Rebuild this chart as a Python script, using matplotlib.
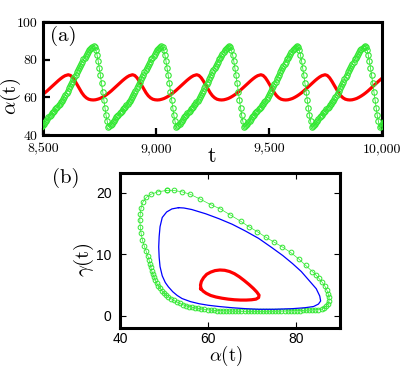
import numpy as np
import matplotlib
matplotlib.use("Agg")
import matplotlib.pyplot as plt
from matplotlib.ticker import StrMethodFormatter

plt.rcParams['mathtext.fontset'] = 'cm'

# ---- panel (a): alpha(t) time series ----
# one green cycle read from the plot, sampled every 5 time units from a trough
green_step = 5
green_cycle = [44.4, 44.7, 45.2, 45.9, 46.7, 47.6, 48.5, 49.3, 50.1, 50.8,
               51.5, 52.2, 52.9, 53.6, 54.3, 55.0, 55.8, 56.6, 57.4, 58.3,
               59.3, 60.3, 61.4, 62.5, 63.6, 64.8, 66.0, 67.2, 68.4, 69.6,
               70.8, 72.0, 73.2, 74.4, 75.6, 76.8, 77.9, 79.0, 80.1, 81.1,
               82.1, 83.1, 84.0, 84.9, 85.7, 86.4, 86.9, 87.2, 86.6, 85.0,
               82.6, 79.4, 75.7, 71.7, 67.4, 63.0, 58.5, 54.2, 50.4, 47.3]
green_troughs = [8489, 8789, 9089, 9389, 9689, 9989]

# one red cycle, sampled every 10 time units from a peak
red_step = 10
red_cycle = [72.0, 71.6, 70.4, 68.6, 66.5, 64.3, 62.4, 60.8, 59.7, 59.0,
             58.7, 58.6, 58.7, 59.0, 59.4, 60.0, 60.7, 61.5, 62.4, 63.4,
             64.5, 65.6, 66.7, 67.8, 68.9, 69.9, 70.8, 71.5, 71.9]
red_peaks = [8328, 8612, 8896, 9180, 9464, 9748, 10032]

# ---- panel (b): gamma(t) vs alpha(t) ----
green_loop_alpha = [50.6, 48.7, 47.1, 46.0, 45.2, 44.8, 44.6, 44.5, 44.6, 44.8,
                    45.1, 45.5, 45.9, 46.3, 46.6, 46.8, 47.0, 47.2, 47.4, 47.7,
                    48.0, 48.3, 48.7, 49.1, 49.5, 50.0, 50.5, 51.0, 51.6, 52.2,
                    52.9, 53.6, 54.3, 55.0, 55.7, 56.4, 57.1, 57.8, 58.5, 59.2,
                    59.9, 60.6, 61.3, 62.0, 62.7, 63.4, 64.1, 64.8, 65.5, 66.2,
                    66.9, 67.6, 68.3, 69.0, 69.7, 70.4, 71.1, 71.8, 72.5, 73.2,
                    73.9, 74.6, 75.3, 76.0, 76.7, 77.4, 78.1, 78.8, 79.5, 80.2,
                    80.9, 81.6, 82.3, 83.0, 83.7, 84.4, 85.1, 85.8, 86.4, 86.9,
                    87.3, 87.5, 87.5, 87.3, 87.0, 86.5, 85.9, 85.2, 84.5, 83.7,
                    82.2, 80.7, 78.8, 76.9, 75.0, 73.1, 71.2, 69.3, 67.4, 65.1,
                    62.8, 60.6, 58.2, 55.9, 54.0, 52.2, 50.6]
green_loop_gamma = [20.4, 20.2, 19.8, 19.3, 18.5, 17.6, 16.6, 15.6, 14.5, 13.4,
                    12.3, 11.4, 10.6, 9.8, 9.1, 8.5, 7.9, 7.3, 6.8, 6.3,
                    5.8, 5.3, 4.9, 4.5, 4.1, 3.7, 3.4, 3.1, 2.8, 2.5,
                    2.25, 2.0, 1.8, 1.65, 1.5, 1.38, 1.27, 1.18, 1.1, 1.03,
                    0.97, 0.92, 0.88, 0.85, 0.82, 0.8, 0.78, 0.76, 0.75, 0.74,
                    0.73, 0.72, 0.72, 0.71, 0.71, 0.71, 0.71, 0.71, 0.72, 0.72,
                    0.73, 0.73, 0.74, 0.75, 0.76, 0.77, 0.78, 0.8, 0.81, 0.83,
                    0.85, 0.87, 0.9, 0.92, 0.95, 0.98, 1.0, 1.05, 1.25, 1.55,
                    1.95, 2.45, 3.0, 3.6, 4.2, 4.9, 5.5, 6.1, 6.65, 7.2,
                    8.2, 9.2, 10.3, 11.2, 12.0, 12.8, 13.7, 14.5, 15.4, 16.4,
                    17.4, 18.1, 19.0, 19.8, 20.2, 20.4, 20.4]

blue_loop_alpha = [53.3, 51.8, 50.6, 49.6, 49.1, 48.9, 48.8, 48.9, 49.1, 49.6,
                   50.3, 51.0, 52.0, 53.0, 54.1, 56.0, 58.0, 60.1, 62.5, 65.5,
                   68.5, 71.5, 75.0, 79.2, 82.0, 84.0, 85.1, 85.6, 85.4, 84.6,
                   82.9, 81.2, 79.2, 77.0, 74.5, 71.5, 68.5, 65.5, 62.5, 59.5,
                   56.3, 54.5, 53.3]
blue_loop_gamma = [17.6, 17.4, 16.9, 16.0, 14.5, 12.9, 11.2, 9.5, 8.0, 6.5,
                   5.4, 4.7, 3.9, 3.3, 2.8, 2.3, 1.95, 1.7, 1.5, 1.3,
                   1.15, 1.05, 1.05, 1.15, 1.3, 1.5, 1.9, 2.4, 3.2, 4.4,
                   5.8, 7.2, 8.5, 9.8, 11.1, 12.6, 13.8, 14.9, 15.8, 16.6,
                   17.3, 17.55, 17.6]

red_loop_alpha = [58.4, 58.3, 58.5, 59.0, 59.7, 60.6, 61.6, 62.7, 63.8, 64.9,
                  66.0, 67.1, 68.2, 69.3, 70.3, 71.1, 71.6, 71.5, 70.9, 69.9,
                  68.7, 67.4, 66.0, 64.6, 63.2, 61.8, 60.6, 59.6, 58.9, 58.4]
red_loop_gamma = [4.4, 5.0, 5.6, 6.2, 6.75, 7.1, 7.35, 7.45, 7.4, 7.2,
                  6.85, 6.35, 5.75, 5.1, 4.45, 3.85, 3.35, 2.95, 2.7, 2.6,
                  2.55, 2.55, 2.6, 2.7, 2.85, 3.05, 3.3, 3.65, 4.0, 4.4]

GREEN = '#33e833'
RED = '#ff0000'
BLUE = '#0000ff'

fig = plt.figure(figsize=(4.07, 3.68), dpi=100)

# panel (a)
ax1 = fig.add_axes([43/407, 1-135/368, 339/407, 113/368])
gc = np.array(green_cycle)
green_t = np.concatenate([t0 + green_step*np.arange(len(gc)) for t0 in green_troughs])
green_a = np.concatenate([gc for t0 in green_troughs])
rc = np.array(red_cycle)
red_t = np.concatenate([t0 + red_step*np.arange(len(rc)) for t0 in red_peaks])
red_a = np.concatenate([rc for t0 in red_peaks])

ax1.plot(red_t, red_a, color=RED, lw=2.3, zorder=2)
ax1.plot(green_t, green_a, color=GREEN, lw=0.6, marker='o', ms=3.9,
         mfc='none', mec=GREEN, mew=0.8, zorder=3)
ax1.set_xlim(8500, 10000)
ax1.set_ylim(40, 100)
ax1.set_xticks([8500, 9000, 9500, 10000])
ax1.set_yticks([40, 60, 80, 100])
ax1.xaxis.set_major_formatter(StrMethodFormatter('{x:,.0f}'))
ax1.tick_params(direction='in', length=5, width=1.6, top=False, right=False,
                labelsize=10)
ax1.tick_params(axis='x', pad=6)
ax1.tick_params(axis='y', pad=4)
for lab in ax1.get_xticklabels() + ax1.get_yticklabels():
    lab.set_fontfamily('cmr10')
for sp in ax1.spines.values():
    sp.set_linewidth(2.2)
ax1.text(0.02, 0.97, '(a)', transform=ax1.transAxes, ha='left', va='top',
         fontsize=15, fontfamily='cmr10')

# panel (b)
ax2 = fig.add_axes([120/407, 1-328/368, 220/407, 154.7/368])
ax2.plot(green_loop_alpha, green_loop_gamma, color=GREEN, lw=0.5, marker='o',
         ms=3.4, mfc='none', mec=GREEN, mew=0.7, zorder=2)
ax2.plot(blue_loop_alpha, blue_loop_gamma, color=BLUE, lw=0.9, zorder=3)
ax2.plot(red_loop_alpha, red_loop_gamma, color=RED, lw=2.3, zorder=4)
ax2.set_xlim(40, 90)
ax2.set_ylim(-2, 23.2)
ax2.set_xticks([40, 60, 80])
ax2.set_yticks([0, 10, 20])
ax2.tick_params(direction='in', length=4, width=0.8, top=True, right=True,
                labelsize=10)
ax2.tick_params(axis='x', pad=3)
ax2.tick_params(axis='y', pad=6)
for lab in ax2.get_xticklabels() + ax2.get_yticklabels():
    lab.set_fontfamily('Liberation Sans')
for sp in ax2.spines.values():
    sp.set_linewidth(2.2)

# labels
fig.text(11/407, 1-96/368, r'$\alpha(\mathrm{t})$', rotation=90,
         ha='center', va='center', fontsize=15)
fig.text(212/407, 1-156/368, r'$\mathrm{t}$', ha='center', va='center',
         fontsize=16)
fig.text(84/407, 1-260/368, r'$\gamma(\mathrm{t})$', rotation=90,
         ha='center', va='center', fontsize=15)
fig.text(226/407, 0.5/368, r'$\alpha(\mathrm{t})$', ha='center',
         va='bottom', fontsize=13.5)
fig.text(52/407, 1-168/368, '(b)', ha='left', va='top', fontsize=15,
         fontfamily='cmr10')

fig.savefig('out.png', dpi=100)
